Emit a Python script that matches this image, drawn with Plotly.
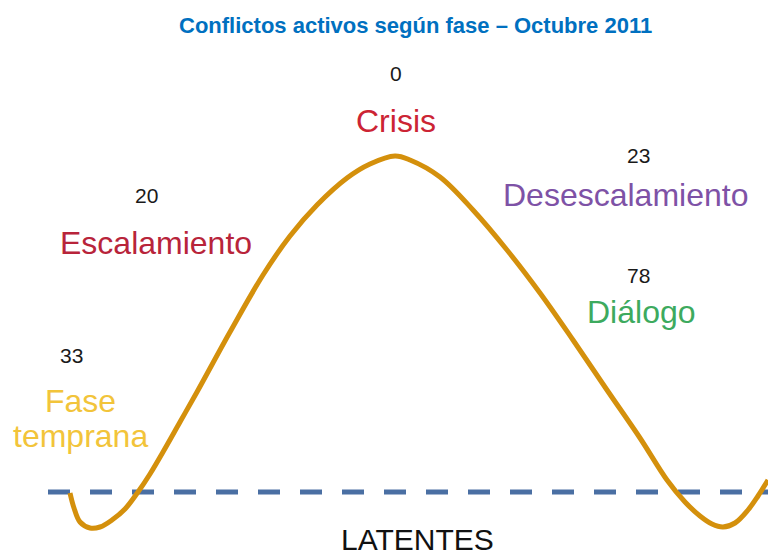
import plotly.graph_objects as go

# ---- data ----
phases = ["Fase<br>temprana", "Escalamiento", "Crisis", "Desescalamiento", "Diálogo"]
counts = [33, 20, 0, 23, 78]
phase_colors = ["#F2C43A", "#B8243A", "#CC2434", "#7E52A6", "#3DAA5E"]
latent_label = "LATENTES"
title_text = "Conflictos activos según fase – Octubre 2011"

# conflict curve (x along phases, height above the latency line)
curve_x = [70, 74, 80, 90, 100, 112, 125, 138, 150, 163, 180, 197, 230, 263, 290, 317, 347, 370, 395,
           410, 440, 473, 507, 540, 573, 607, 640, 667, 685, 700, 712, 723, 735, 748, 758, 768]
curve_y = [-1, -16, -30, -36, -35, -28, -17, 0, 18, 40, 70, 100, 160, 217, 256, 287, 314, 328, 336,
           332, 315, 282, 242, 199, 152, 102, 54, 12, -10, -24, -32, -35, -31, -18, -4, 12]
baseline_x = [48, 768]
baseline_y = [0, 0]

# ---- layout positions (label centres per line, number centres) ----
label_pos = [(80, [91, 56]), (156, [249]), (396, [371]), (625, [297]), (641, [180])]
count_pos = [(71, 137), (146, 297), (396, 419), (638, 337), (638, 217)]

fig = go.Figure()
fig.add_trace(go.Scatter(x=baseline_x, y=baseline_y, mode="lines",
                         line=dict(color="#4A6FA3", width=5, dash="22px,20px"),
                         hoverinfo="skip"))
fig.add_trace(go.Scatter(x=curve_x, y=curve_y, mode="lines",
                         line=dict(color="#D4900C", width=5, shape="spline", smoothing=1.0),
                         hoverinfo="skip"))

for name, c, col, (lx, lys), (nx, ny) in zip(phases, counts, phase_colors, label_pos, count_pos):
    for part, ly in zip(name.split("<br>"), lys):
        fig.add_annotation(x=lx, y=ly, text=part, showarrow=False, xref="x", yref="y",
                           font=dict(family="Liberation Sans, Arial", size=32, color=col),
                           xanchor="center", yanchor="middle")
    fig.add_annotation(x=nx, y=ny, text=str(c), showarrow=False, xref="x", yref="y",
                       font=dict(family="Liberation Sans, Arial", size=21, color="#1A1A1A"),
                       xanchor="center", yanchor="middle")

fig.add_annotation(x=417, y=-47, text=latent_label, showarrow=False, xref="x", yref="y",
                   font=dict(family="Liberation Sans, Arial", size=30, color="#111111"),
                   xanchor="center", yanchor="middle")
fig.add_annotation(x=415, y=467, text="<b>" + title_text + "</b>", showarrow=False,
                   xref="x", yref="y",
                   font=dict(family="Liberation Sans Narrow, Arial Narrow, Liberation Sans", size=22,
                             color="#0070C0"),
                   xanchor="center", yanchor="middle")

fig.update_layout(width=768, height=558, margin=dict(l=0, r=0, t=0, b=0),
                  paper_bgcolor="white", plot_bgcolor="white", showlegend=False)
fig.update_xaxes(range=[0, 768], visible=False, fixedrange=True)
fig.update_yaxes(range=[-66, 492], visible=False, fixedrange=True)

fig.write_html("out.html", config={"displayModeBar": False},
               post_script="document.body.style.margin='0';document.body.style.padding='0';"
                           "document.body.style.overflow='hidden';")
